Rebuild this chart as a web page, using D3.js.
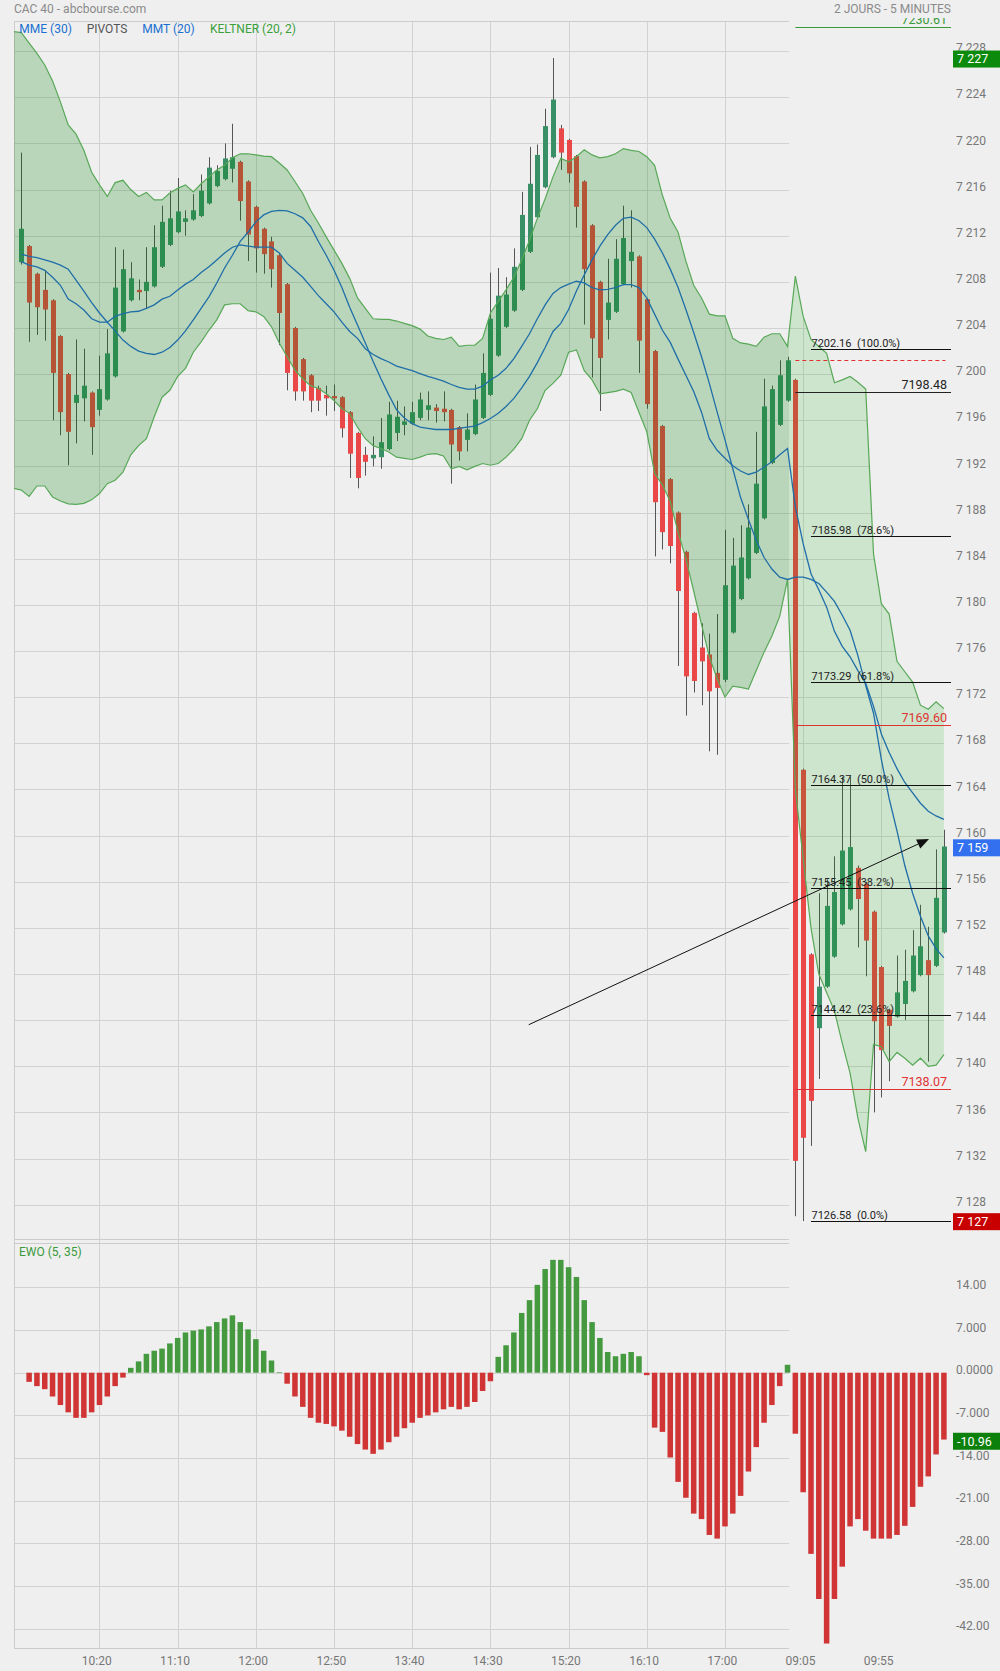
<!DOCTYPE html>
<html><head><meta charset="utf-8">
<script src="https://cdn.jsdelivr.net/npm/d3@7"></script>
<style>
html,body{margin:0;padding:0;background:#efefef;}
svg{display:block;font-family:Roboto,"Noto Sans",sans-serif;}
</style></head><body>
<svg id="c" width="1000" height="1671"></svg>
<script>
// ---------- DATA ----------
const opens = [7209.7,7211.1,7208.7,7207.3,7206.4,7203.3,7200.0,7197.5,7197.9,7198.4,
7196.9,7197.8,7199.8,7203.7,7206.4,7207.3,7207.2,7207.6,7209.3,7211.2,
7212.3,7213.2,7213.4,7213.7,7214.8,7216.3,7216.9,7217.8,7218.4,7216.7,
7214.5,7212.6,7211.5,7210.3,7207.8,7204.0,7201.3,7199.9,7198.8,7198.2,
7198.1,7198.0,7196.7,7194.9,7193.0,7192.7,7192.8,7193.5,7194.9,7195.6,
7195.7,7196.2,7196.9,7197.1,7197.0,7196.9,7195.4,7194.3,7194.8,7196.2,
7198.2,7201.6,7204.1,7205.5,7207.3,7210.6,7213.6,7216.2,7218.8,7221.3,
7220.3,7218.9,7216.7,7212.9,7208.0,7204.7,7205.4,7207.8,7209.8,7210.2,
7206.5,7202.0,7195.5,7190.9,7188.0,7184.6,7179.3,7176.3,7175.7,7174.1,
7173.5,7177.6,7180.5,7182.3,7184.5,7187.5,7192.3,7195.6,7197.7,
7199.5,7165.7,7149.7,7143.3,7146.9,7149.5,7152.3,7153.6,7157.2,7155.8,
7153.4,7148.6,7144.9,7144.3,7145.4,7146.5,7147.9,7149.2,7148.7,7151.6];
const highs = [7219.2,7211.2,7208.8,7209.0,7206.5,7203.4,7200.1,7203.0,7202.2,7198.5,
7201.6,7203.9,7211.0,7210.8,7209.7,7208.2,7211.0,7212.9,7214.6,7215.9,
7217.0,7214.2,7215.6,7217.3,7218.8,7218.1,7220.0,7221.7,7218.5,7216.8,
7214.6,7212.7,7211.9,7210.4,7207.9,7204.1,7201.4,7200.0,7199.0,7199.0,
7199.1,7198.1,7196.8,7195.0,7193.7,7194.6,7196.2,7197.6,7197.7,7197.2,
7197.6,7198.4,7198.5,7197.4,7198.5,7197.0,7195.5,7196.6,7199.1,7201.8,
7208.8,7209.2,7208.4,7210.9,7215.8,7219.7,7219.9,7223.0,7227.4,7221.6,
7220.4,7219.0,7216.8,7213.0,7208.1,7210.0,7211.7,7214.6,7214.2,7210.3,
7206.6,7202.1,7195.6,7191.0,7188.1,7184.7,7179.4,7178.4,7177.5,7179.2,
7186.5,7185.8,7186.9,7188.7,7195.0,7199.6,7199.0,7201.2,7201.5,
7199.6,7165.8,7149.8,7155.0,7156.2,7158.2,7165.1,7165.1,7157.4,7156.0,
7153.5,7148.7,7145.0,7149.6,7150.1,7151.8,7154.0,7152.1,7158.8,7160.5];
const lows = [7209.5,7202.8,7203.4,7202.9,7196.0,7194.7,7192.1,7194.0,7195.9,7193.0,
7196.4,7197.7,7199.7,7203.6,7206.3,7206.4,7205.7,7207.5,7209.2,7211.1,
7212.2,7212.0,7213.3,7213.6,7214.7,7216.2,7216.8,7216.6,7213.3,7209.8,
7208.8,7208.7,7207.5,7202.5,7198.6,7197.7,7197.7,7196.7,7196.8,7196.4,
7196.8,7194.5,7191.0,7190.1,7191.2,7192.0,7191.8,7193.4,7194.2,7194.7,
7195.6,7196.0,7196.0,7195.8,7195.9,7190.5,7192.5,7193.3,7194.7,7196.1,
7198.1,7201.5,7204.0,7205.4,7207.2,7210.5,7213.5,7216.1,7218.7,7217.7,
7216.6,7212.7,7204.3,7199.7,7196.8,7203.0,7205.3,7207.7,7207.5,7200.1,
7197.0,7184.2,7184.8,7183.6,7174.7,7170.4,7172.4,7171.3,7167.3,7167.0,
7173.3,7177.5,7180.4,7182.2,7184.4,7187.4,7192.2,7195.5,7197.6,
7127.0,7126.58,7133.1,7138.9,7146.8,7149.4,7152.2,7153.5,7150.3,7147.8,
7136.0,7137.3,7138.7,7144.2,7144.0,7146.4,7147.8,7140.4,7148.6,7151.5];
const closes = [7212.6,7206.2,7205.8,7205.6,7200.1,7196.7,7195.0,7198.2,7199.0,7195.4,
7198.7,7201.8,7207.5,7209.1,7208.3,7207.1,7208.0,7211.0,7213.2,7213.5,
7214.1,7213.5,7214.2,7215.9,7217.9,7217.6,7218.7,7218.8,7215.0,7212.1,
7210.9,7210.4,7209.1,7205.3,7200.1,7198.5,7198.5,7197.7,7197.7,7197.9,
7197.9,7195.3,7193.1,7191.0,7192.4,7193.0,7194.1,7196.5,7196.3,7195.9,
7196.7,7197.8,7197.3,7196.8,7196.7,7193.9,7193.3,7195.2,7197.8,7200.1,
7204.8,7206.8,7206.9,7209.3,7213.8,7216.5,7219.0,7221.5,7223.8,7219.2,
7217.4,7214.5,7209.1,7203.1,7201.4,7206.2,7210.0,7211.8,7210.6,7202.9,
7197.4,7188.9,7186.3,7185.1,7181.2,7173.8,7173.4,7175.1,7172.5,7172.8,
7181.7,7183.4,7184.1,7186.7,7190.5,7197.2,7198.7,7199.9,7201.2,
7131.8,7133.8,7137.0,7146.9,7153.9,7155.1,7158.7,7159.0,7154.5,7150.9,
7143.9,7141.4,7143.5,7146.4,7147.4,7149.6,7150.4,7147.9,7154.6,7159.05];

// Keltner (20,2) band, starting one bar before the first candle (index -1)
const keltnerStart = -1;
const keltnerUpper = [7229.7,7229.6,7228.7,7227.8,7226.8,7225.4,7223.6,7221.6,7220.8,7219.4,
7217.5,7216.4,7215.4,7216.6,7216.8,7216.0,7215.4,7215.75,7215.1,7215.1,
7215.7,7216.1,7216.4,7215.8,7216.5,7217.1,7217.7,7218.1,7218.75,7219.1,
7219.1,7219.0,7218.9,7218.85,7218.3,7217.7,7216.7,7215.66,7214.2,7213.1,
7211.9,7210.75,7209.6,7208.3,7206.6,7205.7,7204.8,7204.75,7204.75,7204.6,
7204.4,7204.2,7203.9,7203.3,7203.1,7203.0,7203.2,7202.4,7202.5,7202.5,
7203.1,7205.3,7206.3,7207.3,7208.4,7209.9,7211.6,7213.5,7215.2,7217.1,
7218.7,7218.4,7218.85,7219.45,7219.0,7218.75,7218.85,7219.1,7219.55,7219.4,
7219.3,7218.85,7218.1,7215.5,7213.5,7212.3,7209.8,7207.7,7206.6,7205.2,
7205.05,7205.05,7203.1,7202.7,7202.6,7202.4,7203.2,7203.5,7203.5,7202.4,
7208.5,7205.0,7203.0,7202.4,7201.8,7199.25,7199.5,7199.8,7199.3,7198.7,
7184.4,7180.1,7179.2,7175.1,7174.2,7173.3,7171.3,7170.95,7171.6,7171.0];
const keltnerLower = [7190.1,7189.95,7189.4,7190.3,7190.3,7189.35,7189.0,7188.75,7188.7,7188.8,
7189.1,7189.65,7190.5,7190.8,7191.5,7193.0,7193.8,7194.4,7196.3,7198.0,
7198.6,7199.8,7200.5,7201.9,7202.8,7203.8,7204.7,7206.0,7206.1,7206.1,
7205.5,7205.4,7205.0,7204.1,7202.7,7201.5,7200.35,7199.6,7199.0,7198.75,
7198.3,7197.7,7197.0,7196.6,7195.4,7194.4,7193.8,7193.55,7193.25,7192.8,
7192.7,7192.6,7192.8,7193.05,7193.1,7192.9,7191.8,7192.0,7191.7,7192.0,
7192.25,7192.1,7192.25,7192.8,7193.5,7194.4,7196.0,7197.0,7198.6,7199.2,
7199.9,7201.9,7202.1,7200.3,7199.5,7198.3,7198.4,7198.5,7198.7,7198.4,
7196.7,7195.0,7191.4,7190.4,7188.95,7186.3,7184.0,7181.2,7178.3,7175.5,
7173.6,7172.0,7172.95,7172.85,7172.7,7174.3,7175.9,7177.3,7179.0,7182.2,
7164.0,7158.0,7152.0,7148.0,7146.4,7144.8,7142.0,7139.4,7135.5,7132.6,
7141.9,7141.7,7140.4,7141.2,7140.7,7140.1,7140.7,7140.0,7140.1,7141.0];

const mmt20 = [7210.4,7210.2,7210.1,7209.9,7209.7,7209.45,7209.1,7208.15,7207.2,7206.2,
7205.3,7204.5,7203.75,7202.95,7202.4,7202.0,7201.8,7201.7,7201.9,7202.3,
7202.95,7203.75,7204.7,7205.7,7206.7,7207.9,7209.2,7210.3,7211.5,7212.3,
7213.2,7213.8,7214.1,7214.2,7214.15,7213.9,7213.55,7212.8,7211.5,7210.3,
7209.0,7207.5,7205.8,7204.25,7202.7,7201.1,7199.6,7198.2,7196.9,7196.2,
7195.7,7195.4,7195.3,7195.2,7195.2,7195.2,7195.3,7195.4,7195.5,7195.8,
7196.15,7196.6,7197.2,7197.9,7198.8,7199.8,7201.0,7202.3,7203.7,7204.4,
7205.6,7207.2,7208.6,7209.9,7211.1,7212.1,7212.9,7213.5,7213.6,7213.3,
7212.7,7211.7,7210.5,7209.1,7207.5,7205.6,7203.6,7201.5,7199.2,7196.7,
7194.3,7191.8,7189.3,7187.4,7185.6,7184.1,7183.1,7182.4,7182.2,
7182.4,7182.4,7182.2,7181.85,7181.1,7180.3,7179.1,7177.8,7175.6,7173.0,
7170.6,7166.6,7163.2,7160.4,7157.4,7155.0,7153.0,7151.3,7150.2,7149.4];
const mme30 = [7209.75,7209.45,7209.3,7209.0,7208.4,7207.7,7206.5,7206.1,7205.55,7204.8,
7204.5,7204.5,7205.0,7205.25,7205.4,7205.45,7205.7,7206.0,7206.5,7206.75,
7207.3,7207.8,7208.2,7208.8,7209.3,7209.9,7210.5,7211.0,7211.2,7211.1,
7211.0,7211.0,7211.0,7210.5,7209.6,7209.0,7208.4,7207.6,7206.8,7206.1,
7205.4,7204.5,7203.7,7203.1,7202.2,7201.7,7201.35,7201.05,7200.7,7200.5,
7200.3,7200.05,7199.8,7199.6,7199.4,7199.1,7198.85,7198.7,7198.7,7198.95,
7199.5,7199.9,7200.5,7201.35,7202.4,7203.5,7204.8,7206.0,7207.0,7207.5,
7207.8,7208.05,7207.9,7207.5,7207.3,7207.35,7207.5,7207.75,7207.75,7207.5,
7206.6,7205.2,7203.8,7202.75,7201.3,7199.9,7198.5,7196.7,7194.4,7193.4,
7192.7,7192.05,7191.6,7191.3,7191.5,7191.95,7192.4,7193.0,7193.55,
7188.5,7185.3,7182.7,7181.3,7179.8,7177.7,7176.4,7175.5,7174.3,7173.2,
7171.2,7168.8,7167.2,7165.8,7164.6,7163.7,7162.8,7162.1,7161.7,7161.4];

const ewo = [null,-1.5,-2.2,-2.7,-3.9,-5.3,-6.5,-7.4,-7.4,-6.5,
-5.3,-3.9,-2.2,-0.8,0.8,1.85,3.1,3.6,3.95,4.8,
5.7,6.6,6.9,7.1,7.6,8.3,8.9,9.4,8.3,7.1,
5.5,3.6,2.0,0.1,-1.8,-3.9,-5.6,-7.4,-8.2,-8.4,
-8.8,-9.5,-10.5,-11.7,-12.6,-13.3,-12.6,-11.4,-10.5,-9.1,
-8.2,-7.4,-7.0,-6.5,-6.0,-5.6,-6.0,-5.6,-4.8,-3.0,
-1.4,2.6,4.5,6.6,9.8,11.9,14.4,17.0,18.5,18.5,
17.3,15.7,11.9,8.3,5.7,3.4,2.7,3.1,3.4,2.7,
-0.4,-9.0,-9.7,-13.9,-17.9,-20.5,-23.1,-24.0,-26.6,-27.2,
-25.2,-23.1,-20.2,-16.2,-12.2,-8.2,-5.3,-2.2,1.3,
-10.0,-19.6,-29.7,-37.1,-44.4,-37.1,-31.8,-25.2,-24.0,-25.9,
-27.2,-27.2,-27.2,-26.6,-25.1,-22.0,-18.7,-17.0,-13.4,-10.96];

const priceTicks = [7128,7132,7136,7140,7144,7148,7152,7156,7160,7164,7168,7172,7176,7180,7184,7188,7192,7196,7200,7204,7208,7212,7216,7220,7224,7228];
const ewoTicks = [14,7,0,-7,-14,-21,-28,-35,-42];
const ewoTickLabels = ["14.00","7.000","0.0000","-7.000","-14.00","-21.00","-28.00","-35.00","-42.00"];
const timeTickIdx = [10,20,30,40,50,60,70,80,90,100,110];
const timeTickLabels = ["10:20","11:10","12:00","12:50","13:40","14:30","15:20","16:10","17:00","09:05","09:55"];
const day2Start = 99;

const fibLevels = [7202.16,7185.98,7173.29,7164.37,7155.45,7144.42,7126.58];
const fibPct = ["100.0%","78.6%","61.8%","50.0%","38.2%","23.6%","0.0%"];
const pivotLevels = [7230.61,7198.48,7169.60,7138.07];
const pivotColors = ["#3a9a3a","#222222","#e03232","#e03232"];
const prevClose = 7201.2;
const arrowFrom = {i:64.9, p:7143.6};
const arrowTo = {i:116.1, p:7159.7};

// ---------- SCALES ----------
const svg = d3.select('#c');
const x = d3.scaleLinear().domain([0,118]).range([21.3,943.9]);
const y = d3.scaleLinear().domain([7125,7230.61]).range([1239.3,21]);
const ye = d3.scaleLinear().domain([-45.2,21.2]).range([1648.4,1243.4]);
const LEFT = 14, GRID_R = 789, PIV_R = 951;
const fmtP = v => d3.format(",")(v).replace(/,/g," ");
const GRID = "#d2d2d2";

svg.append('rect').attr('width',1000).attr('height',1671).attr('fill','#efefef');

const defs = svg.append('defs');
defs.append('clipPath').attr('id','plotClip').append('rect').attr('x',LEFT).attr('y',21).attr('width',960).attr('height',1239.3-21);
defs.append('clipPath').attr('id','d1Clip').append('rect').attr('x',LEFT).attr('y',21).attr('width',GRID_R-LEFT).attr('height',1239.3-21);
defs.append('clipPath').attr('id','d2Clip').append('rect').attr('x',GRID_R).attr('y',21).attr('width',200).attr('height',1239.3-21);
defs.append('clipPath').attr('id','topClip').append('rect').attr('x',0).attr('y',18).attr('width',1000).attr('height',1300);

const bandIdx = d3.range(keltnerUpper.length).map(k => k + keltnerStart);
const bandArea = d3.area().x((d,k)=>x(bandIdx[k])).y0((d,k)=>y(keltnerLower[k])).y1((d,k)=>y(keltnerUpper[k]));
defs.append('clipPath').attr('id','bandClip').append('path').attr('d', bandArea(keltnerUpper));

const crisp = v => Math.round(v)+0.5;

// ---------- GRID ----------
const g = svg.append('g');
priceTicks.forEach(t => {
  g.append('line').attr('x1',LEFT).attr('x2',GRID_R).attr('y1',crisp(y(t))).attr('y2',crisp(y(t))).attr('stroke',GRID);
});
ewoTicks.forEach(t => {
  g.append('line').attr('x1',LEFT).attr('x2',GRID_R).attr('y1',crisp(ye(t))).attr('y2',crisp(ye(t))).attr('stroke',GRID);
});
timeTickIdx.forEach(i => {
  if (i < day2Start) g.append('line').attr('x1',crisp(x(i))).attr('x2',crisp(x(i))).attr('y1',21).attr('y2',1648.4).attr('stroke',GRID);
});
[[21],[1239.3],[1243.4],[1648.4]].forEach(([yy]) => {
  g.append('line').attr('x1',LEFT).attr('x2',GRID_R).attr('y1',crisp(yy-0.5)).attr('y2',crisp(yy-0.5)).attr('stroke','#cccccc');
});
g.append('line').attr('x1',LEFT+0.5).attr('x2',LEFT+0.5).attr('y1',21).attr('y2',1648.4).attr('stroke','#cccccc');

// day-2 grid only visible inside the band
const g2 = svg.append('g').attr('clip-path','url(#d2Clip)').append('g').attr('clip-path','url(#bandClip)');
priceTicks.forEach(t => {
  g2.append('line').attr('x1',GRID_R).attr('x2',980).attr('y1',crisp(y(t))).attr('y2',crisp(y(t))).attr('stroke',GRID);
});
timeTickIdx.forEach(i => {
  if (i >= day2Start) g2.append('line').attr('x1',crisp(x(i))).attr('x2',crisp(x(i))).attr('y1',21).attr('y2',1240).attr('stroke',GRID);
});

// ---------- CANDLES ----------
const UP = "#3a9066", DOWN = "#ea4848";
const cg = svg.append('g').attr('clip-path','url(#plotClip)');
closes.forEach((c,i) => {
  cg.append('line').attr('x1',crisp(x(i))).attr('x2',crisp(x(i))).attr('y1',y(highs[i])).attr('y2',y(lows[i])).attr('stroke','#555').attr('stroke-width',1);
});
closes.forEach((c,i) => {
  const o = opens[i];
  const top = y(Math.max(o,c)), bot = y(Math.min(o,c));
  cg.append('rect').attr('x',Math.round(x(i))-2).attr('width',5).attr('y',top).attr('height',Math.max(1,bot-top)).attr('fill', c>=o?UP:DOWN);
});

// ---------- KELTNER BAND ----------
const bg = svg.append('g').attr('clip-path','url(#plotClip)');
bg.append('g').attr('clip-path','url(#d1Clip)').append('path').attr('d',bandArea(keltnerUpper)).attr('fill','rgba(0,128,0,0.22)');
bg.append('g').attr('clip-path','url(#d2Clip)').append('path').attr('d',bandArea(keltnerUpper)).attr('fill','rgba(0,160,0,0.14)');
const bl = d3.line().x((d,k)=>x(bandIdx[k])).y(d=>y(d));
bg.append('path').attr('d',bl(keltnerUpper)).attr('fill','none').attr('stroke','#58a858').attr('stroke-width',1.2);
bg.append('path').attr('d',bl(keltnerLower)).attr('fill','none').attr('stroke','#58a858').attr('stroke-width',1.2);

// ---------- MOVING AVERAGES ----------
const ml = d3.line().x((d,i)=>x(i)).y(d=>y(d));
bg.append('path').attr('d',ml(mme30)).attr('fill','none').attr('stroke','#1f6ea8').attr('stroke-width',1.3);
bg.append('path').attr('d',ml(mmt20)).attr('fill','none').attr('stroke','#1f6ea8').attr('stroke-width',1.3);

// ---------- PIVOTS / FIBONACCI ----------
const pg = svg.append('g').attr('clip-path','url(#topClip)');
pivotLevels.forEach((lv,k) => {
  const yy = Math.max(y(lv), 26.7);
  pg.append('line').attr('x1',x(day2Start)).attr('x2',PIV_R).attr('y1',crisp(yy)).attr('y2',crisp(yy)).attr('stroke',pivotColors[k]).attr('stroke-width',1);
  pg.append('text').attr('x',947).attr('y',yy-2.5).attr('text-anchor','end').attr('font-size',12.5).attr('fill',pivotColors[k]).text(lv.toFixed(2));
});
pg.append('line').attr('x1',x(day2Start)).attr('x2',x(118)+1.5).attr('y1',crisp(y(prevClose))).attr('y2',crisp(y(prevClose)))
  .attr('stroke','#e53030').attr('stroke-dasharray','4,3');
fibLevels.forEach((lv,k) => {
  pg.append('line').attr('x1',x(day2Start+2)).attr('x2',PIV_R).attr('y1',crisp(y(lv))).attr('y2',crisp(y(lv))).attr('stroke','#111').attr('stroke-width',1);
  pg.append('text').attr('x',x(day2Start+2)+0.5).attr('y',y(lv)-2).attr('font-size',11).attr('fill','#222')
    .text(lv.toFixed(2)+"\u00a0\u00a0("+fibPct[k]+")");
});

// arrow
{
  const x1=x(arrowFrom.i), y1=y(arrowFrom.p), x2=x(arrowTo.i), y2=y(arrowTo.p);
  const ang=Math.atan2(y2-y1,x2-x1), hl=12, hw=5;
  const bx=x2-hl*Math.cos(ang), by=y2-hl*Math.sin(ang);
  pg.append('line').attr('x1',x1).attr('y1',y1).attr('x2',bx).attr('y2',by).attr('stroke','#111').attr('stroke-width',1);
  pg.append('path').attr('d',`M${x2},${y2}L${bx+hw*Math.sin(ang)},${by-hw*Math.cos(ang)}L${bx-hw*Math.sin(ang)},${by+hw*Math.cos(ang)}Z`).attr('fill','#111');
}

// ---------- EWO ----------
const eg = svg.append('g');
ewo.forEach((v,i) => {
  if (v === null) return;
  const y0 = ye(0), y1 = ye(v);
  eg.append('rect').attr('x',x(i)-2.75).attr('width',5.5).attr('y',Math.min(y0,y1)).attr('height',Math.max(0.5,Math.abs(y1-y0)))
    .attr('fill', v>=0 ? '#45993f' : '#d03434');
});

// ---------- AXES LABELS ----------
const ag = svg.append('g').attr('font-size',12).attr('fill','#777');
priceTicks.forEach(t => {
  ag.append('text').attr('x',956).attr('y',y(t)-3).attr('dy','0.35em').text(fmtP(t));
});
ewoTicks.forEach((t,k) => {
  ag.append('text').attr('x',956).attr('y',ye(t)-2.6).attr('dy','0.35em').text(ewoTickLabels[k]);
});
timeTickIdx.forEach((i,k) => {
  ag.append('text').attr('x',x(i)-2.7).attr('y',1661).attr('dy','0.35em').attr('text-anchor','middle').text(timeTickLabels[k]);
});

// badges
function badge(yc, txt, col){
  svg.append('rect').attr('x',953).attr('y',yc-8.5).attr('width',47).attr('height',17).attr('fill',col);
  svg.append('text').attr('x',957).attr('y',yc).attr('dy','0.35em').attr('font-size',12.5).attr('fill','#fff').text(txt);
}
const hi = d3.max(highs), lo = d3.min(lows), last = closes[closes.length-1];
badge(y(hi)+1, fmtP(Math.round(hi)), '#0b8a0b');
badge(y(last)+1.3, fmtP(Math.round(last)), '#3370f0');
badge(y(lo)+0.6, fmtP(Math.round(lo)), '#c80000');
const lastE = ewo[ewo.length-1];
badge(ye(lastE)+1.7, lastE.toFixed(2), '#0b800b');

// ---------- HEADER / LEGEND ----------
const tg = svg.append('g').attr('font-size',12);
tg.append('text').attr('x',14).attr('y',8.5).attr('dy','0.35em').attr('fill','#8a8a8a').text('CAC 40 - abcbourse.com');
tg.append('text').attr('x',951).attr('y',8.5).attr('dy','0.35em').attr('text-anchor','end').attr('fill','#8a8a8a').text('2 JOURS - 5 MINUTES');
const legend = [["MME (30)",19.3,"#1a6fd0"],["PIVOTS",86.7,"#555"],["MMT (20)",142.3,"#1a6fd0"],["KELTNER (20, 2)",210,"#3aa03a"]];
legend.forEach(([t,lx,c]) => tg.append('text').attr('x',lx).attr('y',29).attr('dy','0.35em').attr('fill',c).text(t));
tg.append('text').attr('x',19).attr('y',1252).attr('dy','0.35em').attr('fill','#3a9a3a').text('EWO (5, 35)');
</script>
</body></html>
